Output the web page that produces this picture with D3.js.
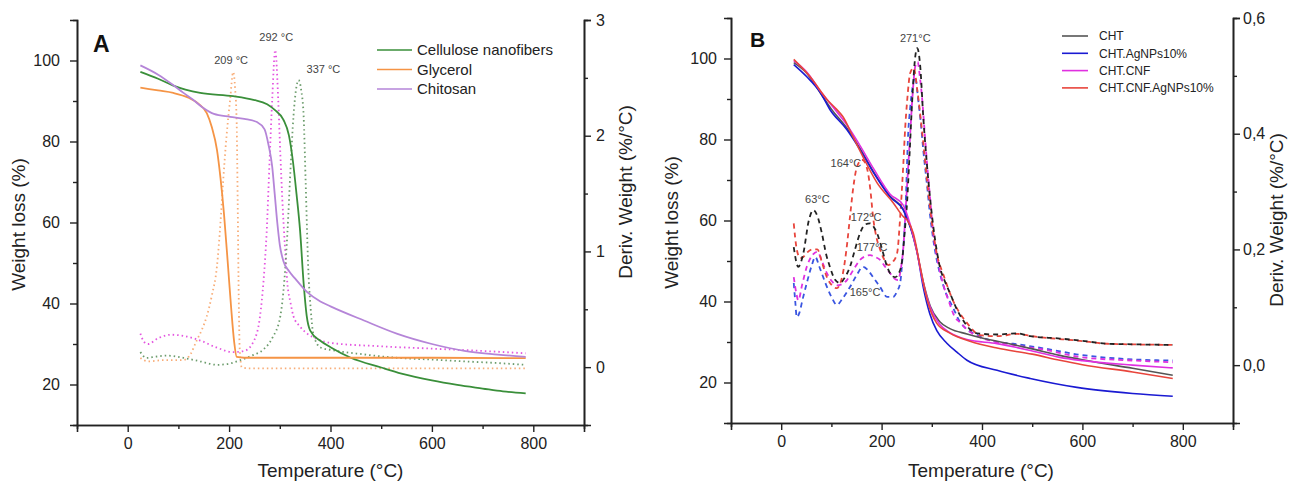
<!DOCTYPE html>
<html>
<head>
<meta charset="utf-8">
<script src="https://cdn.jsdelivr.net/npm/d3@7"></script>
<style>
  body { margin: 0; background: #fff; }
  svg { display: block; font-family: 'Liberation Sans', Arial, sans-serif; }
  .tick-lbl { font-family: 'Liberation Sans Narrow', 'Arial Narrow', 'Liberation Sans', Arial, sans-serif; }
</style>
</head>
<body>
<svg id="chart" width="1295" height="481"></svg>
<script>
// ---- Panel A : TGA (weight %) and DTG (%/°C) vs temperature ----
const cnfTga = [[25,97.2],[60,95.5],[90,93.8],[143,92],[208,91.2],[248,90.3],[275,89.2],[290,87.8],[307,85.4],[318,81.5],[326,75],[333,67],[340,58],[347,45],[353,37],[360,33.3],[380,30.8],[400,29.2],[440,26.6],[500,24.2],[540,22.7],[600,21],[650,19.9],[700,19],[740,18.3],[785,17.8]];
const glyTga = [[25,93.3],[60,92.6],[90,92],[120,90.8],[140,89.3],[156,87],[166,83.5],[176,78],[183,71],[190,62],[198,49],[204,39],[210,30.5],[215,26.8],[230,26.6],[400,26.6],[600,26.6],[785,26.5]];
const chiTga = [[25,98.8],[60,96.5],[89,94],[110,92],[129,90.3],[150,88.2],[170,86.8],[202,86.1],[230,85.6],[255,84.8],[270,83],[278,79],[285,73.8],[290,67],[295,60],[300,54.5],[307,50.5],[318,48],[330,46.2],[354,42.8],[380,40.5],[400,39.3],[466,35.8],[532,32.5],[600,30],[664,28.3],[730,27.4],[785,26.8]];
const glyDtg = [[25,0.08],[40,0.05],[70,0.06],[109,0.06],[125,0.12],[136,0.23],[146,0.32],[156,0.44],[166,0.62],[176,0.87],[183,1.25],[188,1.59],[195,2.0],[202,2.31],[208,2.55],[212,2.4],[215,2.1],[217,1.4],[219,0.6],[221,0.15],[225,0.0],[240,-0.01],[400,-0.01],[600,-0.01],[785,-0.01]];
const chiDtg = [[25,0.29],[32,0.22],[40,0.2],[60,0.25],[85,0.28],[110,0.27],[143,0.23],[175,0.17],[208,0.13],[230,0.14],[248,0.22],[261,0.44],[268,0.75],[274,1.16],[280,1.8],[285,2.31],[291,2.74],[297,2.3],[301,1.85],[305,1.45],[310,1.05],[315,0.72],[321,0.56],[327,0.44],[340,0.35],[354,0.29],[375,0.24],[400,0.21],[500,0.18],[600,0.16],[700,0.14],[785,0.12]];
const cnfDtg = [[25,0.13],[37,0.08],[55,0.09],[77,0.1],[110,0.08],[143,0.05],[176,0.02],[200,0.03],[222,0.06],[245,0.1],[267,0.15],[285,0.25],[301,0.44],[309,0.75],[315,1.16],[321,1.7],[327,2.17],[332,2.4],[337,2.48],[342,2.4],[347,2.17],[351,1.6],[356,0.87],[361,0.5],[366,0.29],[380,0.17],[400,0.15],[466,0.11],[532,0.08],[600,0.065],[664,0.05],[730,0.035],[785,0.02]];
const legendA = ['Cellulose nanofibers', 'Glycerol', 'Chitosan'];
const peaksA = [['209 °C', 204, 2.62], ['292 °C', 293, 2.82], ['337 °C', 386, 2.54]];

// ---- Panel B : films ----
const chtTga = [[25,99],[50,96.5],[78,91.5],[100,87.5],[131,82.8],[157,77.8],[184,72],[217,66],[243,62.8],[257,58.6],[270,52.5],[283,44.8],[297,38.8],[316,35],[336,33.3],[370,32],[400,31],[450,29.7],[500,28.3],[555,26.7],[600,25.6],[700,23.5],[780,21.8]];
const agTga = [[25,98.5],[51,95.5],[78,91.6],[97,87.4],[131,82.4],[157,77.5],[184,71.8],[217,65.8],[243,62.6],[257,58.4],[270,52.7],[283,43.5],[296,37],[310,32.8],[330,29.7],[350,27.5],[370,25.5],[430,23],[496,21],[589,18.8],[700,17.3],[780,16.6]];
const cnfFilmTga = [[25,99.5],[50,96.8],[78,92],[100,88.5],[131,83.6],[157,78.5],[184,72.8],[217,66.5],[243,63.8],[257,59],[270,52.5],[283,44.5],[297,38.5],[316,34.3],[336,32.3],[370,30.6],[430,29.6],[500,27.8],[555,26.2],[600,25.4],[700,24.3],[780,23.6]];
const cnfAgTga = [[25,99.8],[57,95.6],[91,89.9],[110,87.5],[123,85.6],[143,80.7],[163,75.7],[191,69.3],[223,64.4],[243,61],[251,60.1],[263,56.9],[277,48.5],[291,40.3],[310,34.6],[336,32.2],[376,30.2],[430,28.5],[500,27],[555,25.5],[600,24.4],[700,22.6],[780,21]];
const chtDtg = [[25,0.204],[34,0.17],[44,0.193],[55,0.25],[64,0.268],[72,0.258],[81,0.228],[90,0.19],[97,0.17],[107,0.148],[117,0.142],[127,0.152],[137,0.17],[147,0.2],[157,0.228],[167,0.243],[177,0.245],[185,0.238],[191,0.228],[201,0.2],[211,0.17],[220,0.155],[227,0.152],[235,0.16],[241,0.182],[246,0.23],[251,0.285],[256,0.37],[261,0.458],[267,0.533],[271,0.548],[277,0.516],[283,0.429],[290,0.35],[297,0.285],[306,0.22],[316,0.17],[326,0.145],[336,0.125],[348,0.1],[362,0.078],[376,0.062],[390,0.055],[430,0.053],[470,0.055],[496,0.05],[555,0.046],[600,0.042],[650,0.037],[700,0.036],[780,0.035]];
const agDtg = [[25,0.142],[28,0.11],[31,0.083],[36,0.09],[43,0.115],[51,0.142],[60,0.17],[68,0.187],[76,0.17],[88,0.142],[100,0.118],[111,0.104],[122,0.115],[137,0.135],[150,0.155],[163,0.17],[173,0.164],[183,0.152],[197,0.135],[211,0.118],[223,0.118],[231,0.128],[237,0.142],[242,0.19],[247,0.256],[253,0.401],[257,0.445],[261,0.476],[267,0.498],[273,0.458],[278,0.42],[283,0.372],[290,0.315],[297,0.256],[306,0.2],[316,0.159],[328,0.125],[342,0.1],[356,0.075],[396,0.05],[430,0.04],[462,0.037],[529,0.028],[595,0.018],[700,0.01],[780,0.008]];
const cnfFilmDtg = [[25,0.152],[30,0.125],[34,0.112],[42,0.14],[51,0.17],[62,0.19],[72,0.196],[82,0.178],[91,0.159],[101,0.145],[111,0.138],[121,0.14],[131,0.147],[144,0.165],[157,0.182],[167,0.188],[177,0.19],[187,0.187],[197,0.182],[207,0.17],[217,0.159],[225,0.15],[233,0.147],[238,0.165],[243,0.2],[248,0.27],[253,0.343],[257,0.4],[261,0.458],[267,0.516],[272,0.524],[276,0.5],[281,0.458],[286,0.4],[291,0.343],[297,0.285],[303,0.228],[312,0.18],[322,0.142],[334,0.11],[346,0.083],[356,0.074],[375,0.058],[396,0.048],[430,0.04],[462,0.035],[529,0.026],[595,0.014],[700,0.008],[780,0.005]];
const cnfAgDtg = [[25,0.245],[31,0.2],[38,0.185],[44,0.187],[52,0.195],[62,0.2],[72,0.2],[82,0.175],[91,0.152],[101,0.138],[111,0.133],[117,0.14],[123,0.159],[130,0.2],[137,0.256],[144,0.31],[151,0.343],[161,0.355],[167,0.35],[173,0.332],[178,0.3],[183,0.256],[190,0.22],[197,0.2],[205,0.183],[213,0.173],[222,0.178],[231,0.194],[237,0.256],[243,0.343],[247,0.41],[251,0.458],[257,0.505],[264,0.514],[271,0.476],[281,0.401],[291,0.315],[303,0.228],[312,0.185],[322,0.159],[342,0.112],[370,0.073],[396,0.052],[430,0.05],[470,0.054],[500,0.05],[595,0.042],[650,0.037],[780,0.035]];
const legendB = ['CHT', 'CHT.AgNPs10%', 'CHT.CNF', 'CHT.CNF.AgNPs10%'];
const peaksB = [['271°C', 267, 0.558], ['164°C', 129, 0.343], ['63°C', 72, 0.28], ['172°C', 169, 0.25], ['177°C', 181, 0.198], ['165°C', 167, 0.12]];

const xTicks = [0, 200, 400, 600, 800];
const xMinor = [100, 300, 500, 700];
const yTicks = [20, 40, 60, 80, 100];
const yMinor = [30, 50, 70, 90];

const svg = d3.select('#chart');
const AX = '#222';

function axisStyle(g) {
  g.selectAll('.domain').attr('stroke', AX).attr('stroke-width', 1.6);
  g.selectAll('.tick line').attr('stroke', AX).attr('stroke-width', 1.4);
  g.selectAll('text').attr('class', 'tick-lbl').style('font-size', '16px').attr('fill', '#222');
}

function drawPanel(P) {
  const x = d3.scaleLinear().domain([-100, 900]).range([P.left, P.right]);
  const y = d3.scaleLinear().domain([10, 110]).range([P.bottom, P.top]);
  const y2 = d3.scaleLinear().domain(P.rDomain).range([P.bottom, P.top]);

  // minor ticks first (no labels)
  svg.append('g').attr('transform', `translate(0,${P.bottom})`)
    .call(d3.axisBottom(x).tickValues(xMinor).tickSize(4).tickFormat('')).call(axisStyle);
  svg.append('g').attr('transform', `translate(${P.left},0)`)
    .call(d3.axisLeft(y).tickValues(yMinor).tickSize(4).tickFormat('')).call(axisStyle);
  svg.append('g').attr('transform', `translate(${P.right},0)`)
    .call(d3.axisRight(y2).tickValues(P.rMinor).tickSize(4).tickFormat('')).call(axisStyle);

  svg.append('g').attr('transform', `translate(0,${P.bottom})`)
    .call(d3.axisBottom(x).tickValues(xTicks).tickSize(7).tickPadding(6)).call(axisStyle);
  svg.append('g').attr('transform', `translate(${P.left},0)`)
    .call(d3.axisLeft(y).tickValues(yTicks).tickSize(7).tickPadding(P.lPad)).call(axisStyle);
  svg.append('g').attr('transform', `translate(${P.right},0)`)
    .call(d3.axisRight(y2).tickValues(P.rTicks).tickSize(7).tickPadding(P.rPad).tickFormat(P.rFmt)).call(axisStyle);

  const lineL = d3.line().x(d => x(d[0])).y(d => y(d[1])).curve(d3.curveMonotoneX);
  const lineR = d3.line().x(d => x(d[0])).y(d => y2(d[1])).curve(d3.curveMonotoneX);

  P.deriv.forEach(s => {
    svg.append('path').datum(s.data).attr('fill', 'none').attr('stroke', s.color)
      .attr('stroke-width', s.width).attr('stroke-dasharray', s.dash).attr('d', lineR);
  });
  P.tga.forEach(s => {
    svg.append('path').datum(s.data).attr('fill', 'none').attr('stroke', s.color)
      .attr('stroke-width', s.width).attr('d', lineL);
  });

  // peak labels
  P.peaks.forEach(p => {
    svg.append('text').attr('x', x(p[1])).attr('y', y2(p[2])).attr('text-anchor', 'middle')
      .style('font-size', P.peakSize).attr('fill', '#444').text(p[0]);
  });

  // legend
  P.legend.forEach((name, i) => {
    const ly = P.legY + i * P.legStep;
    svg.append('line').attr('x1', P.legX).attr('x2', P.legX + P.legLen).attr('y1', ly).attr('y2', ly)
      .attr('stroke', P.tga[P.legOrder[i]].color).attr('stroke-width', 1.6);
    svg.append('text').attr('x', P.legX + P.legLen + P.legGap).attr('y', ly).attr('dy', '0.35em')
      .style('font-size', P.legSize).attr('fill', '#222').text(name);
  });

  // panel letter
  svg.append('text').attr('x', P.left + P.letterDx).attr('y', P.letterY)
    .style('font-size', P.letterSize).style('font-weight', 'bold').attr('fill', '#111').text(P.letter);

  // axis titles
  const midX = (P.left + P.right) / 2 + P.titleDx;
  svg.append('text').attr('x', midX).attr('y', 477).attr('text-anchor', 'middle')
    .style('font-size', '19px').attr('fill', '#222').text('Temperature (°C)');
  svg.append('text').attr('transform', `translate(${P.left - P.yTitleOff},${(P.top + P.bottom) / 2 + 2}) rotate(-90)`)
    .attr('text-anchor', 'middle').style('font-size', '19px').attr('fill', '#222').text('Weight loss (%)');
  svg.append('text').attr('transform', `translate(${P.right + P.rTitleOff},${P.rTitleY}) rotate(-90)`)
    .attr('text-anchor', 'middle').style('font-size', '19px').attr('fill', '#222').text('Deriv. Weight (%/°C)');
}

drawPanel({
  left: 77, right: 584, top: 20, bottom: 425,
  rDomain: [-0.5, 3], rTicks: [0, 1, 2, 3], rMinor: [0.5, 1.5, 2.5], rFmt: d3.format('d'),
  lPad: 10, rPad: 5,
  tga: [
    { data: cnfTga, color: '#3a8f3a', width: 1.8 },
    { data: glyTga, color: '#f59445', width: 1.8 },
    { data: chiTga, color: '#b585d8', width: 1.8 }
  ],
  deriv: [
    { data: glyDtg, color: '#f8ad78', width: 1.8, dash: '1.5,3' },
    { data: chiDtg, color: '#e455e0', width: 1.8, dash: '1.5,3' },
    { data: cnfDtg, color: '#6c9c6c', width: 1.8, dash: '1.5,3' }
  ],
  peaks: peaksA, peakSize: '11px',
  legend: legendA, legOrder: [0, 1, 2], legX: 377, legLen: 35, legGap: 5, legY: 50, legStep: 19.5, legSize: '15px',
  letter: 'A', letterDx: 16, letterY: 52, letterSize: '23px',
  titleDx: 0, yTitleOff: 52, rTitleOff: 48, rTitleY: 192
});

drawPanel({
  left: 731, right: 1233, top: 18, bottom: 423,
  rDomain: [-0.1, 0.6], rTicks: [0, 0.2, 0.4, 0.6], rMinor: [0.1, 0.3, 0.5],
  rFmt: d => d3.format('.1f')(d).replace('.', ','),
  lPad: 7, rPad: 3,
  tga: [
    { data: chtTga, color: '#555555', width: 1.6 },
    { data: agTga, color: '#1a1ad2', width: 1.6 },
    { data: cnfFilmTga, color: '#e030e0', width: 1.6 },
    { data: cnfAgTga, color: '#e8453c', width: 1.6 }
  ],
  deriv: [
    { data: agDtg, color: '#3a55e0', width: 1.8, dash: '5,4' },
    { data: cnfFilmDtg, color: '#e030e0', width: 1.8, dash: '5,4' },
    { data: cnfAgDtg, color: '#e8453c', width: 1.8, dash: '5,4' },
    { data: chtDtg, color: '#222222', width: 1.8, dash: '5,4' }
  ],
  peaks: peaksB, peakSize: '11px',
  legend: legendB, legOrder: [0, 1, 2, 3], legX: 1062, legLen: 26, legGap: 11, legY: 36, legStep: 17.3, legSize: '12px',
  letter: 'B', letterDx: 19, letterY: 47, letterSize: '21px',
  titleDx: -1, yTitleOff: 53, rTitleOff: 50, rTitleY: 220
});
</script>
</body>
</html>
